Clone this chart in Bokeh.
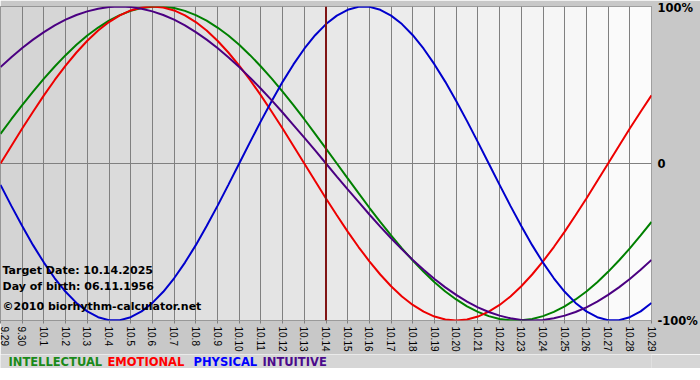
import math
from bokeh.plotting import figure
from bokeh.models import Range1d, FixedTicker, Label, Span
from bokeh.layouts import column
from bokeh.core.properties import value
from bokeh.embed import file_html
from bokeh.resources import INLINE

# ---- data ----
days = ["9.29", "9.30"] + ["10.%d" % d for d in range(1, 30)]
target_day = "10.14"
target_date = "10.14.2025"
birth_date = "06.11.1956"

# values (%) read every half day, from 9.29 to 10.29
intellectual = [18.9, 28.2, 37.2, 45.8, 54.1, 61.8, 69.0, 75.6, 81.5, 86.6, 91.0, 94.5, 97.2, 99.0, 99.9,
                99.9, 99.0, 97.2, 94.5, 91.0, 86.6, 81.5, 75.6, 69.0, 61.8, 54.1, 45.8, 37.2, 28.2, 18.9, 9.5, 0.0,
                -9.5, -18.9, -28.2, -37.2, -45.8, -54.1, -61.8, -69.0, -75.6, -81.5, -86.6, -91.0, -94.5, -97.2,
                -99.0, -99.9, -99.9, -99.0, -97.2, -94.5, -91.0, -86.6, -81.5, -75.6, -69.0, -61.8, -54.1, -45.8,
                -37.2]
emotional = [0.0, 11.2, 22.3, 33.0, 43.4, 53.2, 62.3, 70.7, 78.2, 84.7, 90.1, 94.4, 97.5, 99.4, 100.0,
             99.4, 97.5, 94.4, 90.1, 84.7, 78.2, 70.7, 62.3, 53.2, 43.4, 33.0, 22.3, 11.2, 0.0,
             -11.2, -22.3, -33.0, -43.4, -53.2, -62.3, -70.7, -78.2, -84.7, -90.1, -94.4, -97.5, -99.4, -100.0,
             -99.4, -97.5, -94.4, -90.1, -84.7, -78.2, -70.7, -62.3, -53.2, -43.4, -33.0, -22.3, -11.2,
             0.0, 11.2, 22.3, 33.0, 43.4]
physical = [-13.6, -27.0, -39.8, -52.0, -63.1, -73.1, -81.7, -88.8, -94.2, -97.9, -99.8,
            -99.8, -97.9, -94.2, -88.8, -81.7, -73.1, -63.1, -52.0, -39.8, -27.0, -13.6, 0.0,
            13.6, 27.0, 39.8, 52.0, 63.1, 73.1, 81.7, 88.8, 94.2, 97.9, 99.8, 99.8, 97.9, 94.2, 88.8, 81.7,
            73.1, 63.1, 52.0, 39.8, 27.0, 13.6, 0.0, -13.6, -27.0, -39.8, -52.0, -63.1, -73.1, -81.7, -88.8,
            -94.2, -97.9, -99.8, -99.8, -97.9, -94.2, -88.8]
intuitive = [61.4, 67.7, 73.6, 78.9, 83.7, 88.0, 91.6, 94.6, 96.9, 98.6, 99.7, 100.0,
             99.7, 98.6, 96.9, 94.6, 91.6, 88.0, 83.7, 78.9, 73.6, 67.7, 61.4, 54.7, 47.6, 40.2, 32.5, 24.5,
             16.5, 8.3, 0.0, -8.3, -16.5, -24.5, -32.5, -40.2, -47.6, -54.7, -61.4, -67.7, -73.6, -78.9, -83.7,
             -88.0, -91.6, -94.6, -96.9, -98.6, -99.7, -100.0, -99.7, -98.6, -96.9, -94.6, -91.6, -88.0, -83.7,
             -78.9, -73.6, -67.7, -61.4]

y_ticks = [100, 0, -100]
y_tick_labels = ["100%", "0", "-100%"]

series_names = ["INTELLECTUAL", "EMOTIONAL", "PHYSICAL", "INTUITIVE"]
series_values = [intellectual, emotional, physical, intuitive]
series_colors = ["#008000", "#ee0000", "#0000cc", "#4b0082"]
legend_colors = ["#1a8a1a", "#ff0000", "#0000ff", "#4b0a8c"]

day_x = list(range(len(days)))
n = len(days) - 1
half_x = [k / 2 for k in range(len(physical))]

p = figure(width=700, height=354, x_range=Range1d(0, n), y_range=Range1d(-100, 100),
           output_backend="svg", toolbar_location=None, y_axis_location="right",
           min_border_left=0, min_border_top=6, min_border_right=49, min_border_bottom=33)
p.border_fill_color = "#c8c8c8"
p.background_fill_color = "#e6e6e6"
p.outline_line_color = "#808080"
p.outline_line_width = 1

# gradient background, one strip per day
lo, hi = 211, 252
cols = []
for i in range(n):
    v = int(round(lo + (hi - lo) * (i + 0.5) / n))
    cols.append("#%02x%02x%02x" % (v, v, v))
p.quad(left=day_x[:-1], right=day_x[1:], top=[100] * n, bottom=[-100] * n, fill_color=cols,
       line_color=None, level="image")

# grid
p.xgrid.ticker = FixedTicker(ticks=day_x)
p.xgrid.grid_line_color = "#808080"
p.xgrid.grid_line_width = 1
p.ygrid.ticker = FixedTicker(ticks=[0])
p.ygrid.grid_line_color = "#808080"
p.ygrid.grid_line_width = 1

# bottom axis
xa = p.xaxis[0]
xa.ticker = FixedTicker(ticks=day_x)
xa.major_label_overrides = {i: d for i, d in enumerate(days)}
xa.major_label_orientation = -math.pi / 2
xa.axis_line_color = None
xa.major_tick_line_color = "#808080"
xa.major_tick_out = 3
xa.major_tick_in = 0
xa.minor_tick_line_color = None
xa.major_label_standoff = 3
xa.major_label_text_font = "Liberation Sans"
xa.major_label_text_font_size = "10px"
xa.major_label_text_color = "#000000"

# right axis
ya = p.yaxis[0]
ya.ticker = FixedTicker(ticks=y_ticks)
ya.major_label_overrides = dict(zip(y_ticks, y_tick_labels))
ya.axis_line_color = None
ya.major_tick_line_color = None
ya.major_tick_out = 0
ya.major_tick_in = 0
ya.minor_tick_line_color = None
ya.major_label_standoff = 6
ya.major_label_text_font = "DejaVu Sans"
ya.major_label_text_font_style = "bold"
ya.major_label_text_font_size = "11.5px"
ya.major_label_text_color = "#000000"

# curves
for vals, c in zip(series_values, series_colors):
    p.line(half_x, vals, line_color=c, line_width=2)

# target date line
p.add_layout(Span(location=days.index(target_day), dimension="height", line_color="#801414", line_width=2))

# info texts
info = [("Target Date: " + target_date, 50), ("Day of birth: " + birth_date, 34),
        ("\u00a92010 biorhythm-calculator.net", 14)]
for t, off in info:
    p.add_layout(Label(x=0, y=-100, text=t, x_offset=2, y_offset=off, text_baseline="middle",
                       text_font="DejaVu Sans", text_font_style="bold", text_font_size="11px",
                       text_color="#000000"))

# legend row (separate strip below the chart, sharing the chart's x scale)
leg = figure(width=700, height=14, x_range=p.x_range, y_range=Range1d(0, 14),
             output_backend="svg", toolbar_location=None, x_axis_location=None, y_axis_location=None,
             min_border_left=0, min_border_right=49, min_border_top=0, min_border_bottom=0)
leg.grid.visible = False
leg.outline_line_color = None
leg.background_fill_color = "#d6d6d6"
leg.border_fill_color = "#d6d6d6"
legend_px = [8, 107, 193, 262]
leg.text(x=[0] * 4, y=[7] * 4, text=series_names, x_offset=legend_px, text_color=legend_colors,
         text_font=value("DejaVu Sans"), text_font_style="bold", text_font_size="11.5px",
         text_baseline="middle", text_align="left")

layout = column(p, leg, spacing=0)
open("out.html", "w").write(file_html(layout, INLINE))
